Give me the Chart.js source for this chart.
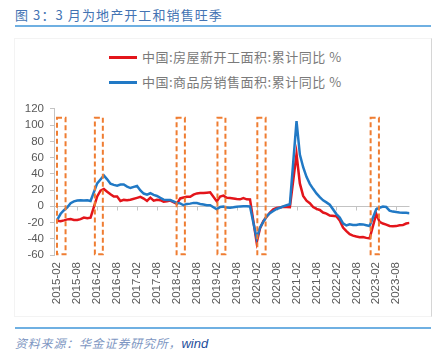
<!DOCTYPE html>
<html><head><meta charset="utf-8">
<script src="https://cdn.jsdelivr.net/npm/chart.js@4.4.0/dist/chart.umd.min.js"></script>
<style>
html,body{margin:0;padding:0;background:#fff;width:443px;height:356px;overflow:hidden;position:relative;}
#title{position:absolute;left:15px;top:6px;line-height:17px;font-size:13px;font-family:"Noto Sans CJK SC";color:#4373b3;letter-spacing:1.1px;white-space:nowrap;}
#hline{position:absolute;left:15px;top:25px;width:416px;height:2px;background:#6fb0e2;}
#frame{position:absolute;left:14px;top:38px;width:416px;height:277px;border:1px solid #f3f3f3;border-right:1px solid #d6d6d6;}
.leg{position:absolute;left:109px;height:18px;white-space:nowrap;font-size:13px;font-family:"Noto Sans CJK SC";color:#7a7a7a;letter-spacing:0.5px;line-height:18px;}
.leg i{display:inline-block;width:28px;height:3px;vertical-align:middle;margin-right:5px;position:relative;top:-1px;}
#cv{position:absolute;left:14px;top:96px;}
#fline{position:absolute;left:15px;top:327px;width:416px;height:2px;background:#6fb0e2;}
#foot{position:absolute;left:15px;top:334px;line-height:17px;font-size:12px;font-family:"Noto Sans CJK SC";font-style:italic;color:#7d96c2;letter-spacing:0.8px;white-space:nowrap;}
#foot b{font-family:"Liberation Sans";font-weight:normal;color:#1f4f9c;font-size:13px;letter-spacing:0;}
</style></head>
<body>
<div id="title">图 3：3 月为地产开工和销售旺季</div>
<div id="hline"></div>
<div id="frame"></div>
<div class="leg" style="top:48px"><i style="background:#e3151b"></i><span id="l1"></span></div>
<div class="leg" style="top:73px"><i style="background:#2179c5"></i><span id="l2"></span></div>
<canvas id="cv" width="403" height="219"></canvas>
<div id="fline"></div>
<div id="foot">资料来源：华金证券研究所，<b>wind</b></div>
<script>
// ---- data ----
const seriesNames = ['中国:房屋新开工面积:累计同比 %', '中国:商品房销售面积:累计同比 %'];
const dates = [
 '2015-02','2015-03','2015-04','2015-05','2015-06','2015-07','2015-08','2015-09','2015-10','2015-11','2015-12',
 '2016-02','2016-03','2016-04','2016-05','2016-06','2016-07','2016-08','2016-09','2016-10','2016-11','2016-12',
 '2017-02','2017-03','2017-04','2017-05','2017-06','2017-07','2017-08','2017-09','2017-10','2017-11','2017-12',
 '2018-02','2018-03','2018-04','2018-05','2018-06','2018-07','2018-08','2018-09','2018-10','2018-11','2018-12',
 '2019-02','2019-03','2019-04','2019-05','2019-06','2019-07','2019-08','2019-09','2019-10','2019-11','2019-12',
 '2020-02','2020-03','2020-04','2020-05','2020-06','2020-07','2020-08','2020-09','2020-10','2020-11','2020-12',
 '2021-02','2021-03','2021-04','2021-05','2021-06','2021-07','2021-08','2021-09','2021-10','2021-11','2021-12',
 '2022-02','2022-03','2022-04','2022-05','2022-06','2022-07','2022-08','2022-09','2022-10','2022-11','2022-12',
 '2023-02','2023-03','2023-04','2023-05','2023-06','2023-07','2023-08','2023-09','2023-10','2023-11','2023-12'
];
const newStarts = [
 -17.7,-18.4,-17.3,-16.1,-15.8,-16.8,-16.8,-15.8,-13.9,-14.7,-14.0,
 12.1,19.2,21.4,18.0,14.9,12.0,12.1,6.6,7.9,7.6,8.1,
 10.4,11.6,9.6,6.6,10.6,6.9,8.1,7.5,5.6,6.2,7.0,
 2.9,9.7,10.9,11.8,11.8,14.4,15.9,16.4,16.3,16.8,17.2,
 6.0,11.9,13.1,10.5,10.1,9.5,8.9,8.6,10.0,8.6,8.5,
 -44.9,-27.2,-18.4,-12.8,-7.6,-3.6,-2.1,-1.4,-0.7,-1.0,-1.2,
 64.3,28.2,12.8,6.9,3.8,-0.9,-3.2,-4.5,-7.7,-9.1,-11.4,
 -12.2,-17.5,-26.3,-30.6,-34.4,-36.1,-37.2,-38.0,-37.8,-38.9,-39.4,
 -9.4,-19.2,-21.2,-22.6,-24.3,-24.5,-24.4,-23.4,-23.2,-21.2,-20.4
];
const salesArea = [
 -16.3,-9.2,-4.8,-1.3,3.9,6.1,7.2,7.5,7.2,7.4,6.5,
 28.2,33.1,37.9,33.2,27.9,26.4,25.5,26.9,26.8,24.3,22.5,
 25.1,19.5,15.7,14.3,16.1,14.0,12.7,10.3,8.2,7.9,7.7,
 4.1,3.6,1.3,2.9,3.3,4.2,4.0,2.9,2.2,1.4,1.3,
 -3.6,-0.9,-0.3,-1.6,-1.8,-1.3,-0.6,-0.1,0.1,0.2,-0.1,
 -39.9,-26.3,-19.3,-12.3,-8.4,-5.8,-3.3,-1.8,0.0,1.3,2.6,
 104.9,63.8,48.1,36.3,27.7,21.5,15.9,11.3,7.3,4.8,1.9,
 -9.6,-13.8,-20.9,-23.6,-22.2,-23.1,-23.0,-22.2,-22.3,-23.3,-24.3,
 -3.6,-1.8,-0.4,-0.9,-5.3,-6.5,-7.1,-7.5,-7.8,-8.0,-8.5
];
const xTickLabels = ['2015-02','2015-08','2016-02','2016-08','2017-02','2017-08','2018-02','2018-08','2019-02','2019-08','2020-02','2020-08','2021-02','2021-08','2022-02','2022-08','2023-02','2023-08'];
const yTicks = [120,100,80,60,40,20,0,-20,-40,-60];
// highlighted spring periods (start, end as fractional years), value span
const highlightPeriods = [[2015.075,2015.29],[2016.025,2016.225],[2018.075,2018.283],[2019.1,2019.3],[2020.1,2020.308],[2022.942,2023.15]];
const highlightSpan = [-59, 109];

document.getElementById('l1').textContent = seriesNames[0];
document.getElementById('l2').textContent = seriesNames[1];

const mi = s => { const [y,m] = s.split('-').map(Number); return (y-2015)*12 + (m-1); };
const fmi = f => (f-2015)*12;
const tickVals = xTickLabels.map(mi);
const idxLabel = {}; xTickLabels.forEach(l => idxLabel[mi(l)] = l);

const zeroLine = {
  id:'zeroLine',
  beforeDatasetsDraw(c){
    const {ctx, chartArea:a, scales:{x,y}} = c;
    const y0 = Math.round(y.getPixelForValue(0)) + 0.5;
    ctx.save(); ctx.strokeStyle = '#c3c3c3'; ctx.lineWidth = 1;
    ctx.beginPath(); ctx.moveTo(a.left, y0); ctx.lineTo(a.right, y0);
    tickVals.forEach(v => { const px = Math.round(x.getPixelForValue(v)) + 0.5; ctx.moveTo(px, y0); ctx.lineTo(px, y0 + 4); });
    ctx.stroke(); ctx.restore();
  }
};
const boxes = {
  id:'boxes',
  afterDatasetsDraw(c){
    const {ctx, scales:{x,y}} = c;
    ctx.save(); ctx.strokeStyle = '#ef7d32'; ctx.lineWidth = 2; ctx.setLineDash([5,3]);
    highlightPeriods.forEach(([s,e]) => {
      const x1 = x.getPixelForValue(fmi(s)), x2 = x.getPixelForValue(fmi(e));
      const y1 = y.getPixelForValue(highlightSpan[1]), y2 = y.getPixelForValue(highlightSpan[0]);
      ctx.strokeRect(x1, y1, x2 - x1, y2 - y1);
    });
    ctx.restore();
  }
};

const font = {family:'Liberation Sans', size:11.5};
new Chart(document.getElementById('cv'), {
  type:'line',
  data:{
    datasets:[
      {label:seriesNames[0], data:dates.map((d,i)=>({x:mi(d), y:newStarts[i]})), borderColor:'#e3151b', borderWidth:2.5, pointRadius:0, tension:0, order:1},
      {label:seriesNames[1], data:dates.map((d,i)=>({x:mi(d), y:salesArea[i]})), borderColor:'#2179c5', borderWidth:2.5, pointRadius:0, tension:0, order:0}
    ]
  },
  options:{
    responsive:false, animation:false, devicePixelRatio:1,
    layout:{padding:{top:10,left:0,right:0,bottom:0}},
    plugins:{legend:{display:false}, tooltip:{enabled:false}},
    scales:{
      x:{type:'linear', min:0, max:mi('2023-12'),
        afterBuildTicks:s => { s.ticks = tickVals.map(v => ({value:v})); },
        afterFit:s => { s.height = 60; },
        grid:{display:false, drawTicks:false}, border:{display:false},
        ticks:{autoSkip:false, maxRotation:90, minRotation:90, padding:7, color:'#595959', font, callback:v => idxLabel[v] || ''}
      },
      y:{min:-60, max:120,
        afterBuildTicks:s => { s.ticks = yTicks.map(v => ({value:v})); },
        afterFit:s => { s.width = 40; },
        grid:{drawOnChartArea:false, drawTicks:true, tickLength:4, color:'#c3c3c3'},
        border:{display:true, color:'#c3c3c3'},
        ticks:{autoSkip:false, padding:6, color:'#595959', font}
      }
    }
  },
  plugins:[zeroLine, boxes]
});
</script>
</body></html>
